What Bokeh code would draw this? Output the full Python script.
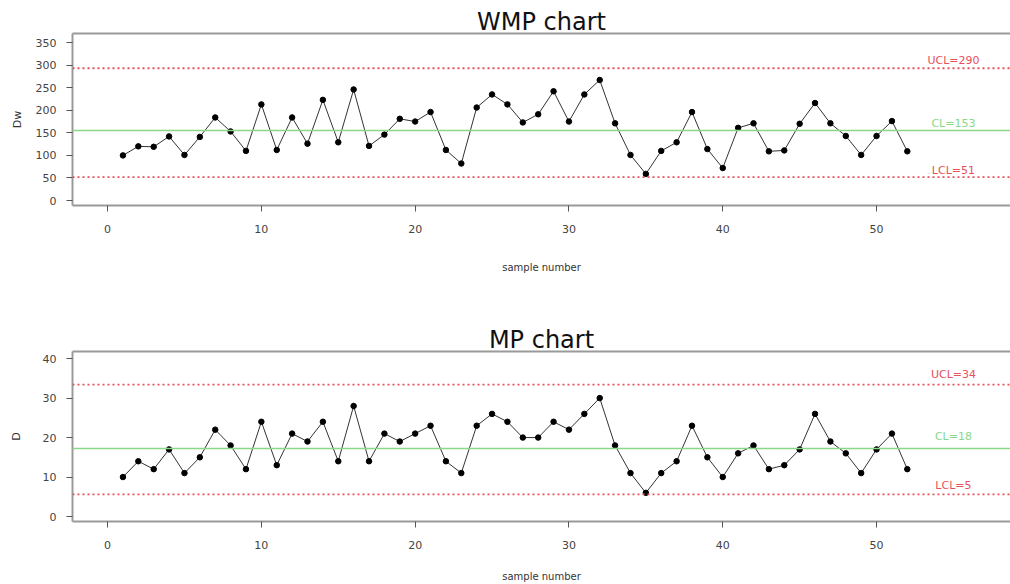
from bokeh.plotting import figure
from bokeh.layouts import column
from bokeh.models import Range1d, FixedTicker, Label, Span, LinearAxis
from bokeh.embed import file_html
from bokeh.resources import INLINE

# ---------------- data ----------------
sample = list(range(1, 53))
wmp = [100, 120, 119, 142, 101, 141, 184, 153, 110, 213,
       112, 184, 126, 223, 129, 246, 121, 146, 181, 175,
       196, 112, 82, 206, 235, 213, 173, 191, 242, 175,
       235, 267, 171, 101, 59, 110, 129, 196, 114, 72,
       161, 171, 109, 111, 170, 216, 171, 143, 101, 143, 176, 109]
mp = [10, 14, 12, 17, 11, 15, 22, 18, 12, 24,
      13, 21, 19, 24, 14, 28, 14, 21, 19, 21,
      23, 14, 11, 23, 26, 24, 20, 20, 24, 22,
      26, 30, 18, 11, 6, 11, 14, 23, 15, 10,
      16, 18, 12, 13, 17, 26, 19, 16, 11, 17, 21, 12]
wmp_limits = [293, 155, 52]
wmp_limit_labels = ["UCL=290", "CL=153", "LCL=51"]
mp_limits = [33.4, 17.2, 5.6]
mp_limit_labels = ["UCL=34", "CL=18", "LCL=5"]
x_ticks = [0, 10, 20, 30, 40, 50]
wmp_yticks = [0, 50, 100, 150, 200, 250, 300, 350]
mp_yticks = [0, 10, 20, 30, 40]
label_x = 55

FONT = "DejaVu Sans"
RED = "#E8505C"
GREEN = "#88D888"
BORDER = "#9a9a9a"


def make(title, ylabel, y, yr, yticks, limits, labels, height, top, bottom,
         ylab_standoff, xlab_standoff, offs):
    p = figure(width=1010, height=height, x_range=Range1d(-2.28, 58.71),
               y_range=Range1d(*yr), output_backend="svg", toolbar_location=None,
               min_border_left=72, min_border_right=0, min_border_top=top,
               min_border_bottom=bottom, background_fill_color="white",
               border_fill_color="white", title=title)
    p.grid.visible = False
    p.outline_line_color = None
    x_ax = p.below[0]
    y_ax = p.left[0]

    top_axis = LinearAxis(ticker=FixedTicker(ticks=[]), major_tick_out=0,
                          major_tick_in=0, major_label_standoff=0,
                          major_label_text_font_size="0px",
                          minor_tick_line_color=None,
                          axis_line_color=BORDER, axis_line_width=2)
    p.add_layout(top_axis, "above")

    p.title.align = "center"
    p.title.text_font = FONT
    p.title.text_font_size = "24px"
    p.title.text_font_style = "normal"
    p.title.text_color = "#111111"
    p.title.standoff = -4
    p.title.offset = 4

    for ax in (x_ax, y_ax):
        ax.axis_line_color = BORDER
        ax.axis_line_width = 2
        ax.major_tick_line_color = "#555555"
        ax.major_tick_in = 0
        ax.major_tick_out = 6
        ax.minor_tick_line_color = None
        ax.major_label_text_font = FONT
        ax.major_label_text_font_size = "11px"
        ax.major_label_text_color = "#444444"
        ax.axis_label_text_font = FONT
        ax.axis_label_text_font_style = "normal"
        ax.axis_label_text_color = "#333333"

    x_ax.ticker = FixedTicker(ticks=x_ticks)
    x_ax.major_label_standoff = 13
    x_ax.axis_label = "sample number"
    x_ax.axis_label_text_font_size = "10px"
    x_ax.axis_label_standoff = xlab_standoff

    y_ax.ticker = FixedTicker(ticks=yticks)
    y_ax.major_label_standoff = 10
    y_ax.axis_label = ylabel
    y_ax.axis_label_text_font_size = "11px"
    y_ax.axis_label_standoff = ylab_standoff

    colors = [RED, GREEN, RED]
    for val, txt, col, off in zip(limits, labels, colors, offs):
        if col == GREEN:
            p.add_layout(Span(location=val, dimension="width", line_color=col,
                              line_width=1.5))
        else:
            p.add_layout(Span(location=val, dimension="width", line_color=col,
                              line_width=1.8, line_dash="2 3"))
        p.add_layout(Label(x=label_x, y=val, text=txt, text_color=col,
                           text_font=FONT, text_font_size="11px",
                           text_align="center", text_baseline="middle",
                           y_offset=off))

    p.line(sample, y, line_color="#333333", line_width=1)
    p.scatter(sample, y, size=5.5, fill_color="black", line_color="black")
    return p


p1 = make("WMP chart", "Dw", wmp, (-11, 370), wmp_yticks, wmp_limits,
          wmp_limit_labels, 290, 33, 85, 9, 26, [8, 7, 7])
p2 = make("MP chart", "D", mp, (-1.26, 41.8), mp_yticks, mp_limits,
          mp_limit_labels, 294, 61, 62, 17, 19, [10, 12, 9])

layout = column(p1, p2, spacing=0)
open("out.html", "w").write(file_html(layout, INLINE))
